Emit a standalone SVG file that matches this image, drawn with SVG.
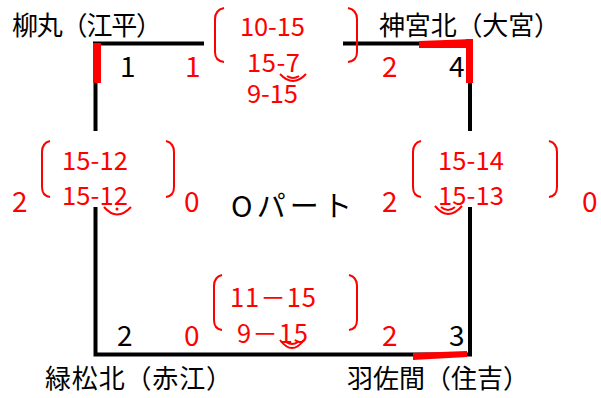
<svg xmlns="http://www.w3.org/2000/svg" width="601" height="398" viewBox="0 0 601 398">
<style>
text{font-family:"Noto Sans CJK JP","Noto Sans",sans-serif}
.name{font-size:26px;fill:#000}
.num{font-size:28px}
.blk{fill:#000}
.red{fill:#ff0000}
.sc{font-size:25.5px;fill:#ff0000}
.line{stroke:#000;stroke-width:4;fill:none}
.br{stroke:#ff0000;stroke-width:2;fill:none}
.hl{fill:#ff0000}
</style>
<rect width="601" height="398" fill="#fff"/>
<g id="connectors">
<path class="line" d="M93 43.5H204"/>
<path class="line" d="M343 43.5H472"/>
<path class="line" d="M95.5 42V131"/>
<path class="line" d="M95.5 207V354.5H470V207"/>
<path class="line" d="M470 42V131"/>
<polygon class="hl" points="93,43 101,43 101,83 93,83"/>
<polygon class="hl" points="419,41 473,39 473,48 419,48"/>
<polygon class="hl" points="466,39 473,39 473,83 466,83"/>
<polygon class="hl" points="413,353 467,351 467,357 413,360"/>
</g>
<g id="n1">
<text class="name" x="12" y="35" textLength="150">柳丸（江平）</text>
<text class="num blk" x="120" y="77">1</text>
<text class="num red" x="185" y="77">1</text>
</g>
<g id="n4">
<text class="name" x="379" y="35" textLength="181">神宮北（大宮）</text>
<text class="num red" x="382" y="77">2</text>
<text class="num blk" x="449" y="77">4</text>
</g>
<g id="n2">
<text class="name" x="45" y="388" textLength="187">緑松北（赤江）</text>
<text class="num blk" x="117" y="346">2</text>
<text class="num red" x="184" y="346">0</text>
</g>
<g id="n3">
<text class="name" x="347" y="388" textLength="182">羽佐間（住吉）</text>
<text class="num red" x="382" y="346">2</text>
<text class="num blk" x="449" y="346">3</text>
</g>
<g id="center">
<text x="231" y="217" font-size="29" textLength="121">Oパート</text>
</g>
<g id="top-score">
<path class="br" d="M224 8Q215 10 215 19V52Q215 61 224 62"/>
<path class="br" d="M348 8Q357 10 357 19V52Q357 61 348 62"/>
<text class="sc" x="240" y="36" textLength="65">10-15</text>
<text class="sc" x="247" y="72" textLength="53">15-7</text>
<text class="sc" x="247" y="103" textLength="51">9-15</text>
<path class="br" stroke-width="1.5" d="M280 74Q293 88 306 74"/>
<path class="br" stroke-width="1.5" d="M287 76Q293 80 299 76"/>
</g>
<g id="left-score">
<text class="num red" x="12" y="212">2</text>
<text class="num red" x="184" y="212">0</text>
<path class="br" d="M50 141Q42 143 42 152V187Q42 196 50 197"/>
<path class="br" d="M166 141Q174 143 174 152V187Q174 196 166 197"/>
<text class="sc" x="62" y="170" textLength="66">15-12</text>
<text class="sc" x="62" y="205" textLength="66">15-12</text>
<path class="br" stroke-width="1.5" d="M104 207Q117 222 131 207"/>
<circle cx="117" cy="209" r="1.5" fill="#ff0000"/>
</g>
<g id="right-score">
<text class="num red" x="382" y="212">2</text>
<text class="num red" x="582" y="212">0</text>
<path class="br" d="M421 141Q413 143 413 152V187Q413 196 421 197"/>
<path class="br" d="M549 141Q557 143 557 152V187Q557 196 549 197"/>
<text class="sc" x="438" y="170" textLength="66">15-14</text>
<text class="sc" x="438" y="205" textLength="66">15-13</text>
<path class="br" stroke-width="1.5" d="M435 206Q448 222 462 206"/>
<path class="br" stroke-width="1.5" d="M441 207Q448 213 455 207"/>
</g>
<g id="bottom-score">
<path class="br" d="M222 275Q214 277 214 286V320Q214 329 222 330"/>
<path class="br" d="M349 275Q357 277 357 286V320Q357 329 349 330"/>
<text class="sc" x="230" y="307" textLength="86">11－15</text>
<text class="sc" x="237" y="343" textLength="71">9－15</text>
<path class="br" stroke-width="1.5" d="M280 340Q292 356 304 340"/>
<path class="br" stroke-width="1.5" d="M286 342Q292 346 298 342"/>
</g>
</svg>
